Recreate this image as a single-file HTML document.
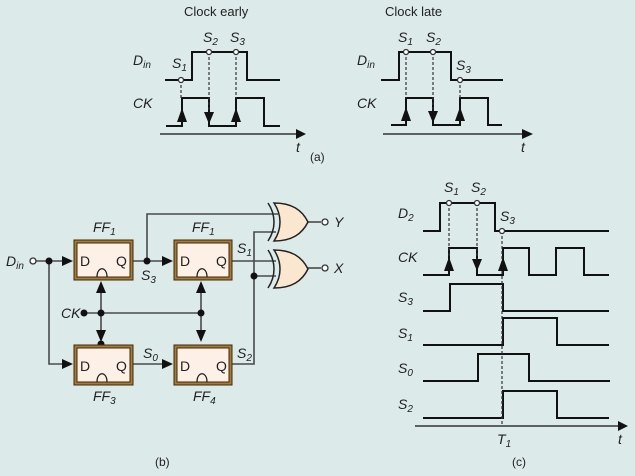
<!DOCTYPE html>
<html><head><meta charset="utf-8"><style>
html,body{margin:0;padding:0;background:#dceae9;}
svg{display:block}
text{font-family:"Liberation Sans",sans-serif;fill:#222}
.i{font-style:italic;font-size:14px}
.s{font-size:10px;font-style:italic}
.w{fill:none;stroke:#111;stroke-width:2}
.g{fill:none;stroke:#4a4a4a;stroke-width:1.6}
.d{stroke:#333;stroke-width:1.2;stroke-dasharray:3,2;fill:none}
.oc{fill:#fff;stroke:#333;stroke-width:1.3}
</style></head><body>
<svg width="635" height="476" viewBox="0 0 635 476" xmlns="http://www.w3.org/2000/svg">
<!-- Panel (a) left -->
<text x="184" y="16" font-size="13">Clock early</text>
<text x="133" y="65" class="i">D<tspan class="s" dy="3">in</tspan></text>
<text x="133" y="108" class="i">CK</text>
<polyline class="w" points="165,80 192,80 192,52 247,52 247,80 280,80"/>
<polyline class="w" points="166,126 182,126 182,98 209,98 209,126 236,126 236,98 264,98 264,126 280,126"/>
<line class="d" x1="181" y1="80" x2="181" y2="98"/>
<line class="d" x1="209" y1="52" x2="209" y2="110"/>
<line class="d" x1="236" y1="52" x2="236" y2="98"/>
<path d="M177,122 L182,108 L187,122z M204,112 L214,112 L209,124z M231,122 L236,108 L241,122z" fill="#111"/>
<circle class="oc" cx="181" cy="80" r="2.5"/><circle class="oc" cx="209" cy="52" r="2.5"/><circle class="oc" cx="236" cy="52" r="2.5"/>
<text x="172" y="68" class="i">S<tspan class="s" dy="3">1</tspan></text>
<text x="203" y="42" class="i">S<tspan class="s" dy="3">2</tspan></text>
<text x="230" y="42" class="i">S<tspan class="s" dy="3">3</tspan></text>
<line x1="160" y1="134" x2="298" y2="134" stroke="#333" stroke-width="1.5"/>
<path d="M296,129 L306,134 L296,139z" fill="#111"/>
<text x="296" y="152" class="i">t</text>
<!-- Panel (a) right -->
<text x="385" y="16" font-size="13">Clock late</text>
<text x="357" y="65" class="i">D<tspan class="s" dy="3">in</tspan></text>
<text x="357" y="108" class="i">CK</text>
<polyline class="w" points="381,80 399,80 399,52 451,52 451,80 503,80"/>
<polyline class="w" points="391,125 406,125 406,98 433,98 433,125 460,125 460,98 488,98 488,125 502,125"/>
<line class="d" x1="406" y1="52" x2="406" y2="98"/>
<line class="d" x1="433" y1="52" x2="433" y2="110"/>
<line class="d" x1="460" y1="80" x2="460" y2="98"/>
<path d="M401,121 L406,107 L411,121z M428,111 L438,111 L433,123z M455,121 L460,107 L465,121z" fill="#111"/>
<circle class="oc" cx="406" cy="52" r="2.5"/><circle class="oc" cx="433" cy="52" r="2.5"/><circle class="oc" cx="460" cy="80" r="2.5"/>
<text x="398" y="42" class="i">S<tspan class="s" dy="3">1</tspan></text>
<text x="426" y="42" class="i">S<tspan class="s" dy="3">2</tspan></text>
<text x="456" y="70" class="i">S<tspan class="s" dy="3">3</tspan></text>
<line x1="383" y1="134" x2="524" y2="134" stroke="#333" stroke-width="1.5"/>
<path d="M522,129 L533,134 L522,139z" fill="#111"/>
<text x="521" y="152" class="i">t</text>
<text x="310" y="161" font-size="12">(a)</text>

<!-- Panel (b) -->
<g class="g">
<line x1="36" y1="261" x2="68" y2="261"/>
<polyline points="49,261 49,364 68,364"/>
<line x1="133" y1="261" x2="168" y2="261"/>
<polyline points="147,261 147,214 278,214"/>
<line x1="232" y1="261" x2="276" y2="261"/>
<line x1="133" y1="364" x2="168" y2="364"/>
<polyline points="232,364 254,364 254,232 276,232"/>
<line x1="254" y1="276" x2="276" y2="276"/>
<line x1="84" y1="313" x2="201" y2="313"/>
<line x1="101" y1="284" x2="101" y2="340"/>
<line x1="201" y1="284" x2="201" y2="340"/>
<line x1="308" y1="222" x2="321" y2="222"/>
<line x1="308" y1="268" x2="321" y2="268"/>
</g>
<path d="M62,256 L73,261 L62,266z M62,359 L73,364 L62,369z M162,256 L173,261 L162,266z M162,359 L173,364 L162,369z" fill="#111"/>
<path d="M96,293 L101,281 L106,293z M96,330 L106,330 L101,342z M196,293 L201,281 L206,293z M196,330 L206,330 L201,342z" fill="#111"/>
<g fill="#111"><circle cx="49" cy="261" r="3.5"/><circle cx="147" cy="261" r="3.5"/><circle cx="84" cy="313" r="3.5"/><circle cx="101" cy="313" r="3.5"/><circle cx="201" cy="313" r="3.5"/><circle cx="101" cy="344" r="3.5"/><circle cx="254" cy="276" r="3.5"/></g>
<circle class="oc" cx="33" cy="261" r="3"/>
<circle class="oc" cx="325" cy="222" r="3"/>
<circle class="oc" cx="325" cy="268" r="3"/>
<g>
<rect x="74" y="240" width="59" height="40" fill="#a87a35" stroke="#3a2a10" stroke-width="1"/>
<rect x="77" y="243" width="53" height="34" fill="#fdf0e6" stroke="#3a2a10" stroke-width="1"/>
<rect x="174" y="240" width="58" height="40" fill="#a87a35" stroke="#3a2a10" stroke-width="1"/>
<rect x="177" y="243" width="52" height="34" fill="#fdf0e6" stroke="#3a2a10" stroke-width="1"/>
<rect x="74" y="345" width="59" height="40" fill="#a87a35" stroke="#3a2a10" stroke-width="1"/>
<rect x="77" y="348" width="53" height="34" fill="#fdf0e6" stroke="#3a2a10" stroke-width="1"/>
<rect x="174" y="345" width="58" height="40" fill="#a87a35" stroke="#3a2a10" stroke-width="1"/>
<rect x="177" y="348" width="52" height="34" fill="#fdf0e6" stroke="#3a2a10" stroke-width="1"/>
</g>
<g fill="none" stroke="#222" stroke-width="1.3">
<path d="M97,277 C97,266 107,266 107,277"/><path d="M197,277 C197,266 207,266 207,277"/>
<path d="M97,382 C97,371 107,371 107,382"/><path d="M197,382 C197,371 207,371 207,382"/>
</g>
<g font-size="14">
<text x="80" y="266">D</text><text x="116" y="266">Q</text>
<text x="180" y="266">D</text><text x="216" y="266">Q</text>
<text x="80" y="371">D</text><text x="116" y="371">Q</text>
<text x="180" y="371">D</text><text x="216" y="371">Q</text>
</g>
<text x="93" y="232" class="i">FF<tspan class="s" dy="3">1</tspan></text>
<text x="192" y="232" class="i">FF<tspan class="s" dy="3">1</tspan></text>
<text x="93" y="401" class="i">FF<tspan class="s" dy="3">3</tspan></text>
<text x="193" y="401" class="i">FF<tspan class="s" dy="3">4</tspan></text>
<text x="6" y="266" class="i">D<tspan class="s" dy="3">in</tspan></text>
<text x="61" y="318" class="i">CK</text>
<text x="141" y="280" class="i">S<tspan class="s" dy="3">3</tspan></text>
<text x="237" y="253" class="i">S<tspan class="s" dy="3">1</tspan></text>
<text x="143" y="358" class="i">S<tspan class="s" dy="3">0</tspan></text>
<text x="237" y="358" class="i">S<tspan class="s" dy="3">2</tspan></text>
<text x="334" y="227" class="i">Y</text>
<text x="334" y="273" class="i">X</text>
<g stroke="#222" stroke-width="1.5">
<path d="M274,203 C292,203 302,210 308,222 C302,234 292,241 274,241 C282,229 282,215 274,203z" fill="#fbe6d0"/>
<path d="M268,203 C276,215 276,229 268,241" fill="none"/>
<path d="M274,250 C292,250 302,257 308,269 C302,281 292,288 274,288 C282,276 282,262 274,250z" fill="#fbe6d0"/>
<path d="M268,250 C276,262 276,276 268,288" fill="none"/>
</g>
<text x="155" y="466" font-size="12">(b)</text>

<!-- Panel (c) -->
<text x="398" y="218" class="i">D<tspan class="s" dy="3">2</tspan></text>
<text x="398" y="262" class="i">CK</text>
<text x="398" y="302" class="i">S<tspan class="s" dy="3">3</tspan></text>
<text x="398" y="338" class="i">S<tspan class="s" dy="3">1</tspan></text>
<text x="398" y="373" class="i">S<tspan class="s" dy="3">0</tspan></text>
<text x="398" y="409" class="i">S<tspan class="s" dy="3">2</tspan></text>
<polyline class="w" points="423,231 440,231 440,203 495,203 495,231 609,231"/>
<polyline class="w" points="423,275 449,275 449,248 477,248 477,275 503,275 503,248 529,248 529,275 556,275 556,248 584,248 584,275 609,275"/>
<polyline class="w" points="423,311 450,311 450,284 503,284 503,311 609,311"/>
<polyline class="w" points="423,345 503,345 503,318 557,318 557,345 609,345"/>
<polyline class="w" points="423,381 478,381 478,354 529,354 529,381 610,381"/>
<polyline class="w" points="423,418 503,418 503,391 557,391 557,418 609,418"/>
<line class="d" x1="449" y1="203" x2="449" y2="262"/>
<line class="d" x1="477" y1="203" x2="477" y2="262"/>
<line class="d" x1="502" y1="231" x2="502" y2="426"/>
<path d="M444,271 L449,257 L454,271z M472,259 L482,259 L477,271z M498,271 L503,257 L508,271z" fill="#111"/>
<circle class="oc" cx="449" cy="203" r="2.5"/><circle class="oc" cx="477" cy="203" r="2.5"/><circle class="oc" cx="502" cy="231" r="2.5"/>
<text x="444" y="192" class="i">S<tspan class="s" dy="3">1</tspan></text>
<text x="471" y="192" class="i">S<tspan class="s" dy="3">2</tspan></text>
<text x="500" y="221" class="i">S<tspan class="s" dy="3">3</tspan></text>
<line x1="415" y1="426" x2="620" y2="426" stroke="#333" stroke-width="1.5"/>
<path d="M618,421 L628,426 L618,431z" fill="#111"/>
<text x="497" y="444" class="i">T<tspan class="s" dy="3">1</tspan></text>
<text x="618" y="444" class="i">t</text>
<text x="512" y="466" font-size="12">(c)</text>
</svg>
</body></html>
